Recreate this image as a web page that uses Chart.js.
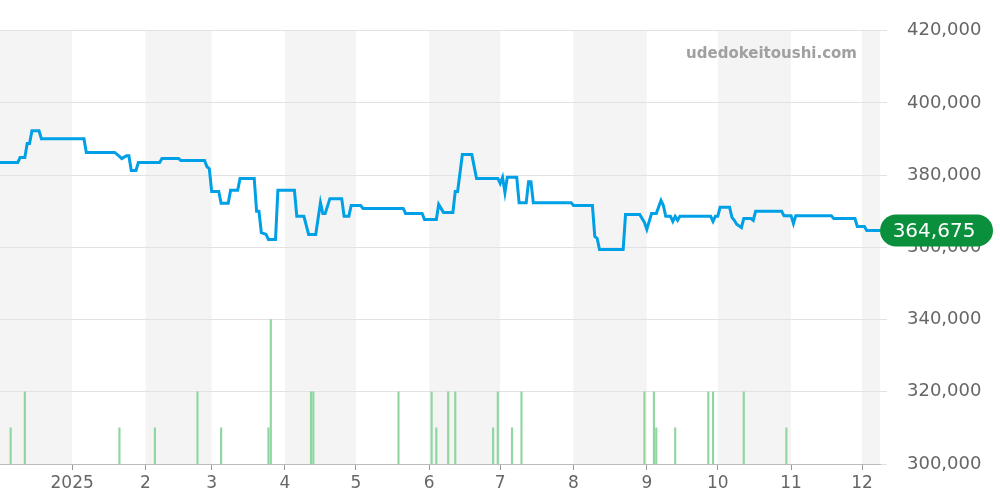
<!DOCTYPE html>
<html>
<head>
<meta charset="utf-8">
<script src="https://cdn.jsdelivr.net/npm/chart.js@4/dist/chart.umd.min.js"></script>
<style>
  body { margin: 0; background: #fff; }
  #wrap { width: 1000px; height: 500px; }
</style>
</head>
<body>
<div id="wrap"><canvas id="chart"></canvas></div>
<script>
// days since 2025-01-01
var priceDays = [-31,-23,-22,-20,-19,-18,-17,-14,-13,5,6,18,20,21,23,24,25,27,28,37,38,45,46,56,57,58,59,62,63,66,67,70,71,77,78,79,80,82,83,86,87,94,95,98,100,103,105,106,107,109,114,115,117,118,122,123,140,141,148,149,154,155,157,161,162,163,165,169,171,180,181,182,183,184,188,189,192,193,194,195,211,212,220,221,222,223,233,234,240,242,243,245,247,249,250,251,253,254,255,256,257,270,271,272,273,274,278,279,280,281,283,284,287,288,289,300,301,304,305,306,321,322,331,332,335,336,344];
var prices = [383500,383500,384900,384900,388800,388800,392300,392300,390100,390100,386300,386300,385200,384600,385400,385400,381300,381300,383500,383500,384600,384600,384100,384100,382400,381800,375500,375500,372200,372200,375800,375800,379100,379100,370000,370000,364100,363600,362200,362200,375800,375800,368600,368600,363600,363600,372400,369400,369400,373500,373500,368600,368600,371600,371600,370800,370800,369400,369400,367700,367700,371900,369700,369700,375500,375500,385700,385700,379100,379100,377700,379400,375200,379400,379400,372400,372400,378200,378200,372400,372400,371600,371600,363000,362500,359400,359400,369100,369100,366900,365000,369400,369400,373000,371600,368600,368600,367200,368600,367500,368600,368600,367200,368600,368600,371100,371100,368300,367500,366400,365500,368000,368000,367500,370000,370000,368800,368800,366600,368800,368800,368000,368000,365800,365800,364675,364675];
var volumeDays = [-26,-20,20,35,53,63,83,84,101,102,138,152,154,159,162,178,180,186,190,242,246,247,255,269,271,284,302];
var volumes = [1,2,1,1,2,1,1,4,2,2,2,2,1,2,2,1,2,1,2,2,2,1,1,2,2,2,1];
var monthTicks = [0,31,59,90,120,151,181,212,243,273,304,334];
var monthLabels = ['2025','2','3','4','5','6','7','8','9','10','11','12'];
var shadedMonths = [[-31,0],[31,59],[90,120],[151,181],[212,243],[273,304],[334,344]];
var lastPrice = 364675;

var bands = {
  id: 'bands',
  beforeDraw: function(chart) {
    var c = chart.ctx, a = chart.chartArea, x = chart.scales.x;
    c.save();
    c.fillStyle = '#f4f4f4';
    shadedMonths.forEach(function(m) {
      var l = Math.max(a.left, x.getPixelForValue(m[0]));
      var r = Math.min(a.right, x.getPixelForValue(m[1]));
      c.fillRect(l, a.top, r - l, a.bottom - a.top);
    });
    c.restore();
  },
  afterDraw: function(chart) {
    var c = chart.ctx;
    c.save();
    c.font = 'bold 15px "DejaVu Sans"';
    c.fillStyle = '#a0a0a0';
    c.textAlign = 'right';
    c.fillText('udedokeitoushi.com', 857, 58);
    var y = chart.scales.y.getPixelForValue(lastPrice);
    var txt = lastPrice.toLocaleString('en-US');
    c.fillStyle = '#0a8f3c';
    c.beginPath();
    c.roundRect(880, y - 16, 113, 32, 16);
    c.fill();
    c.font = '20px "DejaVu Sans"';
    c.fillStyle = '#fff';
    c.textAlign = 'center';
    c.textBaseline = 'middle';
    c.fillText(txt, 934, y + 1);
    c.restore();
  }
};

new Chart(document.getElementById('chart'), {
  data: {
    datasets: [
      {
        type: 'line',
        data: priceDays.map(function(d, i) { return { x: d, y: prices[i] }; }),
        borderColor: '#00a0e6',
        borderWidth: 3,
        pointRadius: 0,
        tension: 0,
        clip: 0,
        yAxisID: 'y'
      },
      {
        type: 'bar',
        data: volumeDays.map(function(d, i) { return { x: d, y: volumes[i] }; }),
        backgroundColor: '#8fd6a0',
        barThickness: 1.5,
        yAxisID: 'y2'
      }
    ]
  },
  options: {
    responsive: true,
    maintainAspectRatio: false,
    animation: false,
    layout: { padding: { top: 30, left: 0, right: 0 } },
    plugins: { legend: { display: false }, tooltip: { enabled: false } },
    scales: {
      x: {
        type: 'linear',
        offset: false,
        min: -30.5, max: 341.6,
        afterBuildTicks: function(s) { s.ticks = monthTicks.map(function(v) { return { value: v }; }); },
        ticks: {
          autoSkip: false, maxRotation: 0, color: '#666',
          font: { family: 'DejaVu Sans', size: 17 },
          callback: function(v) { return monthLabels[monthTicks.indexOf(v)]; }
        },
        grid: { offset: false, drawOnChartArea: false, tickLength: 6, color: '#999' },
        border: { color: '#bbb' },
        afterFit: function(s) { s.height = 36; }
      },
      y: {
        position: 'right',
        min: 300000, max: 420000,
        ticks: {
          stepSize: 20000, color: '#666', padding: 20,
          font: { family: 'DejaVu Sans', size: 18 },
          callback: function(v) { return v.toLocaleString('en-US'); }
        },
        grid: { color: '#e2e2e2', tickLength: 7 },
        border: { display: false },
        afterFit: function(s) { s.width = 120; }
      },
      y2: { display: false, min: 0, max: 12 }
    }
  },
  plugins: [bands]
});
</script>
</body>
</html>
